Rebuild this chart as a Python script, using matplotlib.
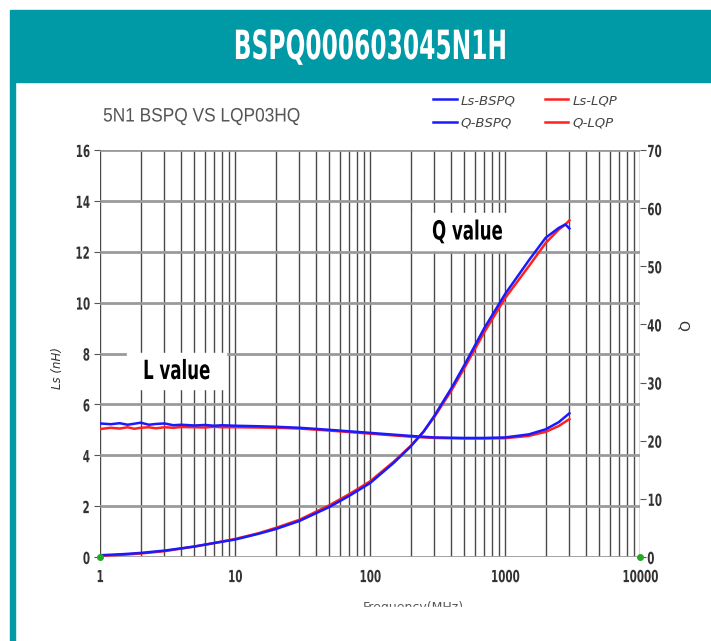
import matplotlib
matplotlib.use("Agg")
import matplotlib.pyplot as plt
from matplotlib.patches import Rectangle
from matplotlib.patheffects import AbstractPathEffect
from matplotlib.transforms import Affine2D

# ---------------- data ----------------
header_title = "BSPQ000603045N1H"
chart_title = "5N1 BSPQ VS LQP03HQ"
freq_L = [1, 1.2, 1.4, 1.6, 1.8, 2, 2.3, 2.6, 3, 3.5, 4, 5, 6, 7, 8, 10, 15, 20, 30, 50, 100, 200, 300, 500, 700, 1000, 1500, 2000, 2500, 3000]
Ls_BSPQ = [5.25, 5.22, 5.26, 5.2, 5.24, 5.28, 5.2, 5.23, 5.25, 5.18, 5.2, 5.17, 5.19, 5.16, 5.18, 5.16, 5.14, 5.12, 5.08, 5.0, 4.88, 4.76, 4.7, 4.68, 4.68, 4.7, 4.82, 5.02, 5.3, 5.65]
Ls_LQP = [5.03, 5.08, 5.05, 5.1, 5.04, 5.08, 5.1, 5.06, 5.1, 5.08, 5.11, 5.1, 5.09, 5.12, 5.1, 5.1, 5.09, 5.08, 5.05, 4.97, 4.85, 4.73, 4.68, 4.66, 4.66, 4.67, 4.76, 4.92, 5.15, 5.42]
freq_Q = [1, 1.5, 2, 3, 5, 7, 10, 15, 20, 30, 50, 70, 100, 150, 200, 250, 300, 400, 500, 700, 1000, 1500, 2000, 2500, 2800, 3000]
Q_BSPQ = [0.3, 0.5, 0.7, 1.1, 1.8, 2.4, 3.0, 4.0, 4.8, 6.2, 8.6, 10.5, 12.7, 16.2, 19.0, 21.6, 24.3, 29.0, 33.0, 39.3, 45.2, 51.0, 54.9, 56.6, 57.2, 56.5]
Q_LQP = [0.2, 0.4, 0.6, 1.0, 1.8, 2.4, 3.1, 4.1, 5.0, 6.4, 8.9, 10.8, 13.0, 16.4, 19.1, 21.6, 24.1, 28.6, 32.5, 38.6, 44.5, 50.0, 54.0, 56.3, 57.2, 57.9]
left_ticks = [0, 2, 4, 6, 8, 10, 12, 14, 16]
right_ticks = [0, 10, 20, 30, 40, 50, 60, 70]
x_ticks = [1, 10, 100, 1000, 10000]
x_ticklabels = ["1", "10", "100", "1000", "10000"]

W, H = 711, 641
fig = plt.figure(figsize=(W / 100, H / 100), dpi=100)


def fx(px):
    return px / W


def fy(py):
    return 1 - py / H


class Condense(AbstractPathEffect):
    """Squeeze the glyph outlines of a text horizontally around an anchor of its extent."""

    def __init__(self, sx, anchor="center"):
        super().__init__()
        self.sx = sx
        self.anchor = anchor

    def draw_path(self, renderer, gc, tpath, affine, rgbFace=None):
        ext = tpath.transformed(affine).get_extents()
        if self.anchor == "left":
            cx = ext.x0
        elif self.anchor == "right":
            cx = ext.x1
        else:
            cx = 0.5 * (ext.x0 + ext.x1)
        t = affine + Affine2D().translate(-cx, 0).scale(self.sx, 1).translate(cx, 0)
        renderer.draw_path(gc, tpath, t, rgbFace)


teal = "#0099a6"
fig.patches.append(Rectangle((fx(10), fy(82)), fx(701), 72 / H, transform=fig.transFigure,
                             color=teal, zorder=0))
fig.patches.append(Rectangle((fx(10), 0), fx(5), fy(82), transform=fig.transFigure,
                             color=teal, zorder=0))
fig.text(fx(370), fy(48), header_title, color="white", fontsize=29, fontweight="bold",
         ha="center", va="center", path_effects=[Condense(0.58)])

ax = fig.add_axes([fx(100), fy(557), fx(540), (557 - 150) / H])
ax.set_xscale("log")
ax.set_xlim(1, 10000)
ax.set_ylim(0, 16)
ax2 = ax.twinx()
ax2.set_ylim(0, 70)

lr, = ax.plot(freq_L, Ls_LQP, color="#ff2020", lw=1.8, zorder=3)
lb, = ax.plot(freq_L, Ls_BSPQ, color="#1a1aff", lw=1.8, zorder=4)
qr, = ax2.plot(freq_Q, Q_LQP, color="#ff2020", lw=1.8, zorder=3)
qb, = ax2.plot(freq_Q, Q_BSPQ, color="#1a1aff", lw=1.8, zorder=4)
ax2.plot([1, 10000], [0, 0], ls="none", marker="o", ms=4, color="#22aa22", clip_on=False, zorder=5)

ax.set_yticks(left_ticks)
ax.grid(True, axis="y", which="major", color="#9a9a9a", lw=2.0)
ax.grid(True, axis="x", which="both", color="#4a4a4a", lw=1.0)
ax.set_axisbelow(True)
ax.set_xticks(x_ticks)
ax.set_xticklabels(x_ticklabels)
ax2.set_yticks(right_ticks)

for a in (ax, ax2):
    for s in a.spines.values():
        s.set_visible(False)
ax.tick_params(axis="x", which="both", length=0, pad=8)
ax.tick_params(axis="y", length=4, width=0.8, color="#555555", pad=3)
ax2.tick_params(axis="y", length=4, width=0.8, color="#555555", pad=1)
for labs, anc in [(ax.get_xticklabels(), "center"), (ax.get_yticklabels(), "right"),
                  (ax2.get_yticklabels(), "left")]:
    for lab in labs:
        lab.set_fontsize(12)
        lab.set_fontweight("bold")
        lab.set_color("#333333")
        lab.set_path_effects([Condense(0.62, anc)])

fig.text(fx(58), fy(368), "Ls (nH)", rotation=90, fontsize=8.5, style="italic",
         ha="center", va="center", color="#333333")
fig.text(fx(683), fy(325), "Q", rotation=270, fontsize=10,
         ha="center", va="center", color="#333333")
fig.text(fx(103), fy(117), chart_title, fontsize=14, family="Liberation Sans",
         ha="left", va="center", color="#555555", path_effects=[Condense(0.89, "left")])

# legend
leg = fig.legend([lb, qb, lr, qr], ["Ls-BSPQ", "Q-BSPQ", "Ls-LQP", "Q-LQP"], ncol=2,
                 loc="center", bbox_to_anchor=(fx(525), fy(112)),
                 frameon=False, handlelength=1.8, handletextpad=0.3,
                 columnspacing=2.2, labelspacing=0.75,
                 prop={"style": "italic", "size": 9.5})
for t in leg.get_texts():
    t.set_color("#444444")

# annotation boxes
for (x0, y0, x1, y1, txt) in [(127, 353, 226, 389, "L value"), (413, 213, 522, 250, "Q value")]:
    fig.patches.append(Rectangle((fx(x0), fy(y1)), fx(x1 - x0), (y1 - y0) / H,
                                 transform=fig.transFigure, color="white", zorder=10))
    cx = (x0 + x1) / 2
    fig.text(fx(cx), fy((y0 + y1) / 2 + 1), txt, fontsize=19, fontweight="bold",
             ha="center", va="center", zorder=11, path_effects=[Condense(0.63)])

# x label, cut off at its lower half
fig.text(fx(413), fy(607), "Frequency(MHz)", fontsize=9,
         ha="center", va="center", color="#555555", zorder=2)
fig.patches.append(Rectangle((fx(200), 0), fx(400), fy(607), transform=fig.transFigure,
                             color="white", zorder=3))

fig.savefig("out.png", dpi=100)
